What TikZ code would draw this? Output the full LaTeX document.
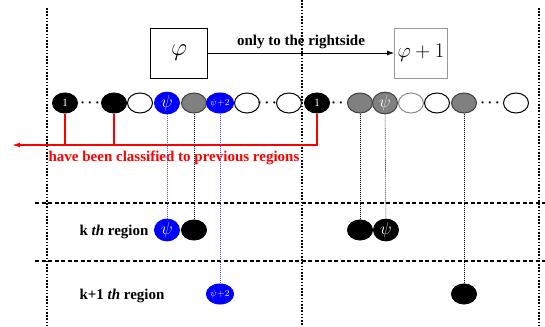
\documentclass[tikz,border=0pt]{standalone}
\usepackage{fontspec}
\setmainfont{Liberation Serif}
\usetikzlibrary{arrows.meta,shapes.geometric}
\begin{document}
\begin{tikzpicture}[x=1pt,y=-1pt,
  ball/.style={ellipse, minimum width=25pt, minimum height=20pt, inner sep=0pt, line width=1pt},
  blackball/.style={ball, fill=black, draw=black, text=white},
  whiteball/.style={ball, fill=white, draw=black},
  lightball/.style={ball, fill=white, draw=black!45},
  grayball/.style={ball, fill=black!50, draw=black!75, text=white},
  blueball/.style={ball, fill=blue, draw=blue, text=white},
  psilabel/.style={font=\fontsize{18}{18}\selectfont},
  onelabel/.style={font=\fontsize{11}{11}\selectfont},
  psitwo/.style={font=\fontsize{9}{9}\selectfont},
  dotsnode/.style={inner sep=0pt, font=\fontsize{15}{15}\selectfont\boldmath},
  box/.style={draw=black, line width=0.8pt, minimum width=57pt, minimum height=50pt, inner sep=0pt, font=\fontsize{24}{26}\selectfont},
  graybox/.style={box, draw=black!40, font=\fontsize{21}{23}\selectfont},
  divider/.style={line width=1.4pt, dash pattern=on 1.6pt off 1.6pt},
  hdivider/.style={line width=1.2pt, dash pattern=on 4pt off 2.5pt},
  link/.style={line width=0.6pt, dash pattern=on 1pt off 1pt},
  bluelink/.style={link, blue!70},
  redline/.style={red, line width=1.3pt},
  lbl/.style={font=\fontsize{15}{17}\selectfont\bfseries}
]
\useasboundingbox (0,0) rectangle (545,326);
% dividers
\draw[divider] (47,8) -- (47,326);
\draw[divider] (302,0) -- (302,326);
\draw[divider] (539,8) -- (539,326);
\draw[hdivider] (35,203) -- (545,203);
\draw[hdivider] (35,261) -- (545,261);
% boxes
\node[box] (p) at (179,53) {$\varphi$};
\node[graybox, minimum width=53pt] (p1) at (421,53) {$\varphi+1$};
\draw[-{Latex[length=7pt,width=5pt]}, line width=0.8pt] (p) -- (p1) node[midway, above=0pt, lbl] {only to the rightside};
% row
\node[blackball, onelabel] (a1) at (65,103) {1};
\node[dotsnode] (d1) at (90,103) {$\cdots$};
\node[blackball] (a2) at (114,103) {};
\node[whiteball] (a3) at (140,103) {};
\node[blueball, psilabel] (a4) at (167,103) {$\psi$};
\node[grayball] (a5) at (194,103) {};
\node[blueball, psitwo] (a6) at (220,103) {$\psi\!+\!2$};
\node[whiteball] (a7) at (247,103) {};
\node[dotsnode] (d2) at (267,103) {$\cdots$};
\node[whiteball] (a8) at (289,103) {};
\node[blackball, onelabel] (a9) at (317,103) {1};
\node[dotsnode] (d3) at (341,103) {$\cdots$};
\node[grayball] (a10) at (360,103) {};
\node[grayball, psilabel] (a11) at (385,103) {$\psi$};
\node[lightball] (a12) at (411,103) {};
\node[whiteball] (a13) at (437,103) {};
\node[grayball] (a14) at (464,103) {};
\node[dotsnode] (d4) at (490,103) {$\cdots$};
\node[whiteball] (a15) at (516,103) {};
% red
\coordinate (rl) at (12,145);
\coordinate (rr) at (317,145);
\draw[redline, -{Latex[length=8pt,width=5pt]}] (a9.south) -- (rr) -- (rl);
\draw[redline] (a1.south) -- (a1.south |- rl);
\draw[redline] (a2.south) -- (a2.south |- rl);
\node[lbl, text=red] (cl) at (174,158) {have been classified to previous regions};
% lower
\node[lbl] (k) at (114,232) {k \textit{th} region};
\node[lbl] (k1) at (122,296) {k+1 \textit{th} region};
\node[blueball, psilabel] (b1) at (167,230) {$\psi$};
\node[blackball] (b2) at (194,230) {};
\node[blackball] (b3) at (360,230) {};
\node[blackball, psilabel] (b4) at (386,230) {$\psi$};
\node[blueball, psitwo] (c1) at (220,294) {$\psi\!+\!2$};
\node[blackball] (c2) at (464,294) {};
\draw[bluelink] (a4) -- (b1);
\draw[link] (a5) -- (b2);
\draw[bluelink] (a6) -- (c1);
\draw[link] (a10) -- (b3);
\draw[link] (a11) -- (b4);
\draw[link] (a14) -- (c2);
\end{tikzpicture}
\end{document}
